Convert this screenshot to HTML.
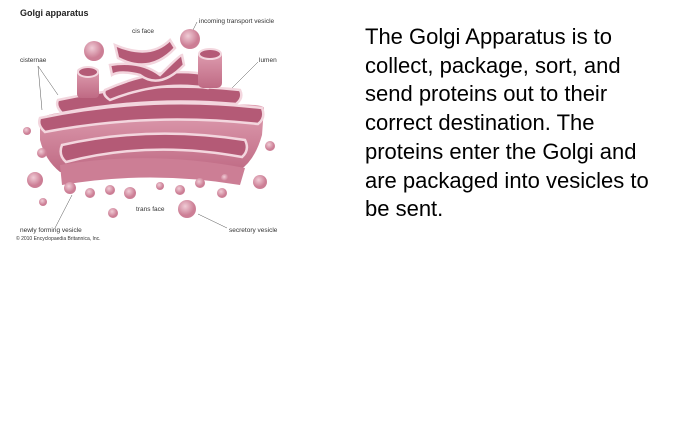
<!DOCTYPE html>
<html><head><meta charset="utf-8"><style>
body{margin:0;width:675px;height:441px;background:#fff;overflow:hidden;position:relative;font-family:"Liberation Sans",sans-serif}
#desc{position:absolute;left:365px;top:23px;font-size:22px;line-height:28.7px;color:#000;margin:0;white-space:nowrap}
svg{position:absolute;left:0;top:0}
.l{font-size:6.5px;fill:#333}
</style></head><body>
<svg width="290" height="245" viewBox="0 0 290 245">
<defs>
<linearGradient id="g" x1="0" y1="0" x2="0" y2="1"><stop offset="0" stop-color="#e0a0b2"/><stop offset="1" stop-color="#bf6a84"/></linearGradient>
<radialGradient id="v" cx="0.4" cy="0.35"><stop offset="0" stop-color="#f0ccd6"/><stop offset="1" stop-color="#cc7e95"/></radialGradient>
</defs>
<text x="20" y="16" font-size="9" font-weight="bold" fill="#222">Golgi apparatus</text>
<text class="l" x="132" y="33">cis face</text>
<text class="l" x="199" y="23">incoming transport vesicle</text>
<text class="l" x="20" y="62">cisternae</text>
<text class="l" x="259" y="62">lumen</text>
<text class="l" x="136" y="211">trans face</text>
<text class="l" x="20" y="232">newly forming vesicle</text>
<text class="l" x="229" y="232">secretory vesicle</text>
<text x="16" y="240" font-size="5" fill="#333">© 2010 Encyclopaedia Britannica, Inc.</text>
<g stroke="#555" stroke-width="0.5" fill="none">
<line x1="38" y1="66" x2="58" y2="95"/><line x1="38" y1="66" x2="42" y2="110"/>
<line x1="258" y1="62" x2="230" y2="90"/><line x1="197" y1="22" x2="192" y2="32"/>
<line x1="55" y1="228" x2="72" y2="195"/><line x1="227" y1="228" x2="198" y2="214"/>
</g>
<path d="M40 120 Q45 108 150 110 Q262 100 264 108 L262 135 Q255 160 240 170 L60 172 Q45 160 40 140 Z" fill="url(#g)"/>
<path d="M60 165 Q150 150 245 168 L240 185 Q150 170 62 185 Z" fill="#cc7e95"/>
<g fill="url(#v)">
<circle cx="70" cy="188" r="6"/><circle cx="90" cy="193" r="5"/><circle cx="110" cy="190" r="5"/><circle cx="130" cy="193" r="6"/><circle cx="160" cy="186" r="4"/><circle cx="180" cy="190" r="5"/><circle cx="200" cy="183" r="5"/><circle cx="225" cy="178" r="4"/>
<circle cx="35" cy="180" r="8"/><circle cx="43" cy="202" r="4"/><circle cx="113" cy="213" r="5"/><circle cx="187" cy="209" r="9"/><circle cx="222" cy="193" r="5"/><circle cx="260" cy="182" r="7"/><circle cx="270" cy="146" r="5"/><circle cx="27" cy="131" r="4"/><circle cx="42" cy="153" r="5"/><circle cx="94" cy="51" r="10"/><circle cx="190" cy="39" r="10"/>
</g>
<g stroke="#f3d6de" stroke-width="2.5" fill="#b45a76">
<path d="M62 145 Q150 125 245 140 Q250 150 242 157 Q150 140 66 162 Q58 155 62 145Z"/>
<path d="M40 118 Q150 95 262 108 Q266 118 258 124 Q150 112 45 132 Q37 125 40 118Z"/>
<path d="M58 100 Q150 80 240 90 Q244 98 236 104 Q150 96 62 113 Q55 106 58 100Z"/>
<path d="M105 90 Q160 65 210 75 Q214 84 208 88 Q160 80 110 100 Q102 95 105 90Z"/>
<path d="M110 65 Q140 60 160 75 Q180 55 182 55 L184 65 Q160 90 140 75 Q120 70 112 75Z"/>
<path d="M115 45 Q150 60 170 40 L175 48 Q150 75 118 58Z"/>
</g>
<g fill="url(#g)"><rect x="77" y="68" width="22" height="30" rx="4"/><rect x="198" y="50" width="24" height="38" rx="5"/></g>
<g fill="#b45a76" stroke="#f3d6de" stroke-width="2"><ellipse cx="88" cy="72" rx="10" ry="5"/><ellipse cx="210" cy="54" rx="11" ry="5"/></g>
</svg>
<p id="desc">The Golgi Apparatus is to<br>collect, package, sort, and<br>send proteins out to their<br>correct destination. The<br>proteins enter the Golgi and<br>are packaged into vesicles to<br>be sent.</p>
</body></html>
